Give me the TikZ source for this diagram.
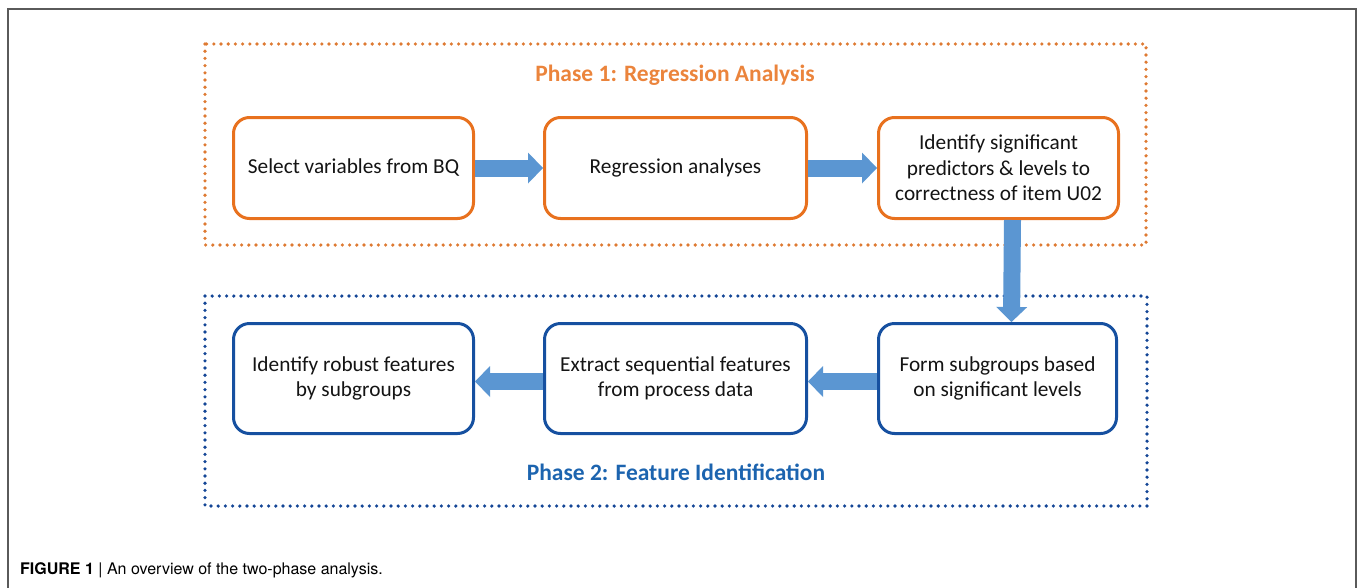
\documentclass[tikz,border=0pt]{standalone}
\usepackage{fontspec}
\setmainfont{Carlito}
\newfontfamily\capfont{TeX Gyre Heros}
\usetikzlibrary{arrows.meta}
\definecolor{orangebox}{RGB}{232,113,30}
\definecolor{orangetitle}{RGB}{235,132,60}
\definecolor{orangedot}{RGB}{222,122,50}
\definecolor{bluebox}{RGB}{22,80,160}
\definecolor{bluetitle}{RGB}{28,100,175}
\definecolor{bluedot}{RGB}{20,70,150}
\definecolor{arrowblue}{RGB}{91,150,210}
\definecolor{framegray}{RGB}{90,90,90}
\definecolor{txt}{RGB}{20,20,20}
\tikzset{
  stepbox/.style={rounded corners=16pt, line width=3pt, fill=white, align=center,
    text=txt, font=\fontsize{21.3}{25.5}\selectfont, inner sep=0pt},
  obox/.style={stepbox, draw=orangebox},
  bbox/.style={stepbox, draw=bluebox},
  dotline/.style={line width=3.6pt, line cap=round, dash pattern=on 0pt off 7.2pt},
  blockarrow/.style={draw=arrowblue, line width=17pt,
    -{Triangle[length=15pt, width=31pt, line width=0pt]}},
  phasetitle/.style={font=\bfseries\fontsize{23.5}{28}\selectfont},
}
\begin{document}
\begin{tikzpicture}[x=1pt,y=-1pt]
\useasboundingbox (0,0) rectangle (1360,587);
% outer frame
\draw[framegray, line width=1.5pt] (8,590) -- (8,9) -- (1356,9) -- (1356,590);
% phase containers
\draw[dotline, draw=orangedot] (205,44) rectangle (1146,245);
\draw[dotline, draw=bluedot] (205,296) rectangle (1147,506);
% titles
\node[phasetitle, text=orangetitle] (t1) at (675,75) {Phase 1: Regression Analysis};
\node[phasetitle, text=bluetitle] (t2) at (676,472) {Phase 2: Feature Identification};
% top row
\node[obox, minimum width=240pt, minimum height=101pt] (a1) at (353.5,168) {Select variables from BQ};
\node[obox, minimum width=262pt, minimum height=101pt] (a2) at (675.5,168) {Regression analyses};
\node[obox, minimum width=240pt, minimum height=101pt] (a3) at (998.5,168) {Identify significant\\predictors \& levels to\\correctness of item U02};
% bottom row
\node[bbox, minimum width=240pt, minimum height=110pt] (b1) at (353.5,378.5) {Identify robust features\\by subgroups};
\node[bbox, minimum width=262pt, minimum height=110pt] (b2) at (675.5,378.5) {Extract sequential features\\from process data};
\node[bbox, minimum width=238pt, minimum height=110pt] (b3) at (997.5,378.5) {Form subgroups based\\on significant levels};
% arrows
\draw[blockarrow] (a1.east) -- (a2.west);
\draw[blockarrow] (a2.east) -- (a3.west);
\draw[blockarrow] ([xshift=14pt]a3.south) -- ([xshift=14pt]b3.north);
\draw[blockarrow] ([yshift=-3pt]b3.west) -- ([yshift=-3pt]b2.west -| b2.east);
\draw[blockarrow] ([yshift=-3pt]b2.west) -- ([yshift=-3pt]b1.east);
% caption
\node[anchor=base west, inner sep=0pt, font=\capfont\fontsize{16}{19}\selectfont] (cap) at (20,574) {\textbf{FIGURE 1} | An overview of the two-phase analysis.};
\end{tikzpicture}
\end{document}
